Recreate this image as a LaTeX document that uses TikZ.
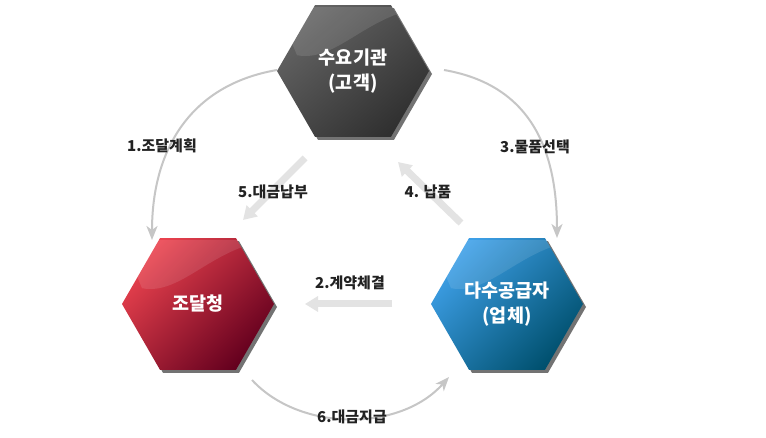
\documentclass[tikz,border=0pt]{standalone}
\usepackage{fontspec}
\newfontfamily\kr{Noto Sans CJK KR}
\usetikzlibrary{shapes.geometric,arrows.meta,shadows}
\definecolor{arcgray}{HTML}{C6C6C6}
\definecolor{bargray}{HTML}{E3E3E3}
\definecolor{labtxt}{HTML}{222222}
\tikzset{
  hexbox/.style={regular polygon, regular polygon sides=6, minimum size=152pt,
    inner sep=0pt, outer sep=0pt, text=white, align=center,
    font=\kr\bfseries\fontsize{18.5}{25}\selectfont,
    general shadow={fill=black!55, shadow xshift=3pt, shadow yshift=-3pt},
    path picture={\fill[white, fill opacity=0.11]
      ([yshift=-2pt]path picture bounding box.north west) -- ([yshift=-2pt]path picture bounding box.north east)
      .. controls +(-60pt,-4pt) and +(40pt,-8pt) .. ([xshift=20pt,yshift=-50pt]path picture bounding box.north west) -- cycle;}},
  arcarrow/.style={draw=arcgray, line width=2pt, -{Stealth[length=14pt,width=11pt,inset=4pt]}},
  bararrow/.style={draw=bargray, line width=7pt, -{Triangle[length=13pt,width=15pt]}},
  steplabel/.style={text=labtxt, font=\kr\bfseries\fontsize{15}{17}\selectfont, inner sep=0pt}
}
\begin{document}
\begin{tikzpicture}[x=1pt,y=-1pt]
\useasboundingbox (0,0) rectangle (766,438);
\fill[white] (0,0) rectangle (766,438);
% hexagons
\node[hexbox, shade, top color={rgb,255:red,100;green,100;blue,100}, middle color={rgb,255:red,74;green,74;blue,74}, bottom color={rgb,255:red,48;green,48;blue,48}, shading angle=40] (cust) at (353,71) {수요기관\\(고객)};
\node[hexbox, shade, top color={rgb,255:red,234;green,66;blue,78}, middle color={rgb,255:red,222;green,52;blue,66}, bottom color={rgb,255:red,100;green,0;blue,30}, shading angle=45] (pps) at (198,304) {조달청};
\node[hexbox, shade, top color={rgb,255:red,62;green,160;blue,232}, middle color={rgb,255:red,40;green,145;blue,215}, bottom color={rgb,255:red,0;green,80;blue,110}, shading angle=45] (supp) at (507,304) {다수공급자\\(업체)};
% connector end points
\coordinate (a1s) at (277,70);
\coordinate (a1e) at (152,240);
\coordinate (a3s) at (444,70);
\coordinate (a3e) at (557,238);
\coordinate (a6s) at (252,380);
\coordinate (a6e) at (449,377);
\coordinate (b5s) at (305,158);
\coordinate (b5e) at (243,220);
\coordinate (b4s) at (461,223);
\coordinate (b4e) at (398,162);
\coordinate (b2s) at (392,304);
\coordinate (b2e) at (305,304);
% curved arrows
\draw[arcarrow] (a1s) .. controls (190,85) and (152,150) .. (a1e);
\draw[arcarrow] (a3s) .. controls (531,85) and (557,150) .. (a3e);
\draw[arcarrow] (a6s) .. controls (300,432) and (400,432) .. (a6e);
% straight arrows
\draw[bararrow] (b5s) -- (b5e);
\draw[bararrow] (b4s) -- (b4e);
\draw[bararrow] (b2s) -- (b2e);
% labels
\node[steplabel] (l1) at (162,146) {1.조달계획};
\node[steplabel] (l5) at (273,192) {5.대금납부};
\node[steplabel] (l3) at (535,147) {3.물품선택};
\node[steplabel] (l4) at (428,192) {4. 납품};
\node[steplabel] (l2) at (350,283) {2.계약체결};
\node[steplabel] (l6) at (352,417) {6.대금지급};
\end{tikzpicture}
\end{document}
